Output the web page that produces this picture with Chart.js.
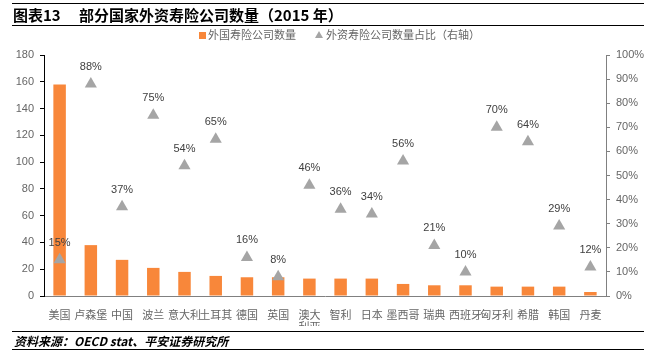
<!DOCTYPE html>
<html><head><meta charset="utf-8">
<script src="https://cdn.jsdelivr.net/npm/chart.js@4/dist/chart.umd.min.js"></script>
<style>
html,body{margin:0;padding:0;background:#fff;}
#wrap{position:relative;width:658px;height:356px;overflow:hidden;font-family:"Noto Sans CJK SC","Noto Sans",sans-serif;}
canvas{position:absolute;left:0;top:0;}
.rule{position:absolute;left:12px;width:632px;height:0;border-top:1.5px solid #000;}
#t1{position:absolute;left:13px;top:5px;font-size:15px;font-weight:bold;line-height:20px;color:#000;}
#t2{position:absolute;left:79px;top:5px;font-size:15px;font-weight:bold;line-height:20px;color:#000;}
#leg{position:absolute;top:27px;left:199px;font-size:11px;line-height:14px;color:#666;white-space:nowrap;}
#leg span.sq{display:inline-block;width:7px;height:7px;background:#F8873A;margin-right:2px;vertical-align:0px;}
#leg span.tri{display:inline-block;width:0;height:0;border-left:4px solid transparent;border-right:4px solid transparent;border-bottom:7px solid #A5A5A5;margin:0 3px 0 19px;vertical-align:1px;}
#src{position:absolute;left:14px;top:332px;font-size:12px;font-weight:bold;font-style:italic;line-height:17px;color:#000;}
</style></head>
<body><div id="wrap">
<canvas id="c" width="658" height="356"></canvas>
<div class="rule" style="top:3px"></div>
<div id="t1">图表13</div>
<div id="t2">部分国家外资寿险公司数量（2015 年）</div>
<div class="rule" style="top:25px"></div>
<div id="leg"><span class="sq"></span>外国寿险公司数量<span class="tri"></span>外资寿险公司数量占比（右轴）</div>
<div class="rule" style="top:331px"></div>
<div id="src">资料来源：OECD stat、平安证券研究所</div>
<div class="rule" style="top:349px"></div>
</div>
<script>
const categories = ['美国','卢森堡','中国','波兰','意大利','土耳其','德国','英国',['澳大','利亚'],'智利','日本','墨西哥','瑞典','西班牙','匈牙利','希腊','韩国','丹麦'];
const companyCounts = [158,38,27,21,18,15,14,14,13,13,13,9,8,8,7,7,7,3];
const foreignShare = [0.15,0.88,0.37,0.75,0.54,0.65,0.16,0.08,0.46,0.36,0.34,0.56,0.21,0.10,0.70,0.64,0.29,0.12];
const leftTicks = [0,20,40,60,80,100,120,140,160,180];
const rightTicks = [0,0.1,0.2,0.3,0.4,0.5,0.6,0.7,0.8,0.9,1.0];

const labelPlugin = {
  id:'pctLabels',
  afterDatasetsDraw(chart){
    const ctx = chart.ctx;
    const meta = chart.getDatasetMeta(1);
    ctx.save();
    ctx.font = '11px "Liberation Sans", "DejaVu Sans", sans-serif';
    ctx.fillStyle = '#404040';
    ctx.textAlign = 'center';
    ctx.textBaseline = 'middle';
    meta.data.forEach((pt,i)=>{
      ctx.fillText(Math.round(foreignShare[i]*100)+'%', pt.x, pt.y-17);
    });
    ctx.restore();
  }
};

new Chart(document.getElementById('c'),{
  data:{
    labels:categories,
    datasets:[
      {type:'bar',label:'外国寿险公司数量',data:companyCounts,backgroundColor:'#F8873A',yAxisID:'y',barPercentage:0.4,categoryPercentage:1.0,order:2},
      {type:'line',label:'外资寿险公司数量占比（右轴）',data:foreignShare,yAxisID:'y1',showLine:false,pointStyle:'triangle',pointRadius:7,pointBackgroundColor:'#A5A5A5',pointBorderColor:'#A5A5A5',pointBorderWidth:0,order:1}
    ]
  },
  options:{
    responsive:false,animation:false,
    layout:{padding:{top:55,bottom:30,left:0,right:0}},
    plugins:{legend:{display:false},tooltip:{enabled:false}},
    scales:{
      x:{
        grid:{display:false},
        border:{display:true,color:'#808080',width:1},
        ticks:{color:'#666',font:{size:11,family:'"Noto Sans CJK SC"',lineHeight:1.1},padding:5,maxRotation:0,autoSkip:false},
        afterFit(s){s.height=30;}
      },
      y:{
        position:'left',min:0,max:180,
        afterBuildTicks(s){s.ticks=leftTicks.map(v=>({value:v}));},
        grid:{display:true,drawOnChartArea:false,drawTicks:true,tickLength:4,color:'#000'},
        border:{display:true,color:'#000',width:1},
        ticks:{color:'#666',font:{size:11,family:'"Liberation Sans"'},padding:6},
        afterFit(s){s.width=44;}
      },
      y1:{
        position:'right',min:0,max:1,
        afterBuildTicks(s){s.ticks=rightTicks.map(v=>({value:v}));},
        grid:{display:true,drawOnChartArea:false,drawTicks:true,tickLength:4,color:'#808080'},
        border:{display:true,color:'#808080',width:1},
        ticks:{color:'#666',font:{size:11,family:'"Liberation Sans"'},padding:6,callback:v=>Math.round(v*100)+'%'},
        afterFit(s){s.width=52;}
      }
    }
  },
  plugins:[labelPlugin]
});
</script>
</body></html>
